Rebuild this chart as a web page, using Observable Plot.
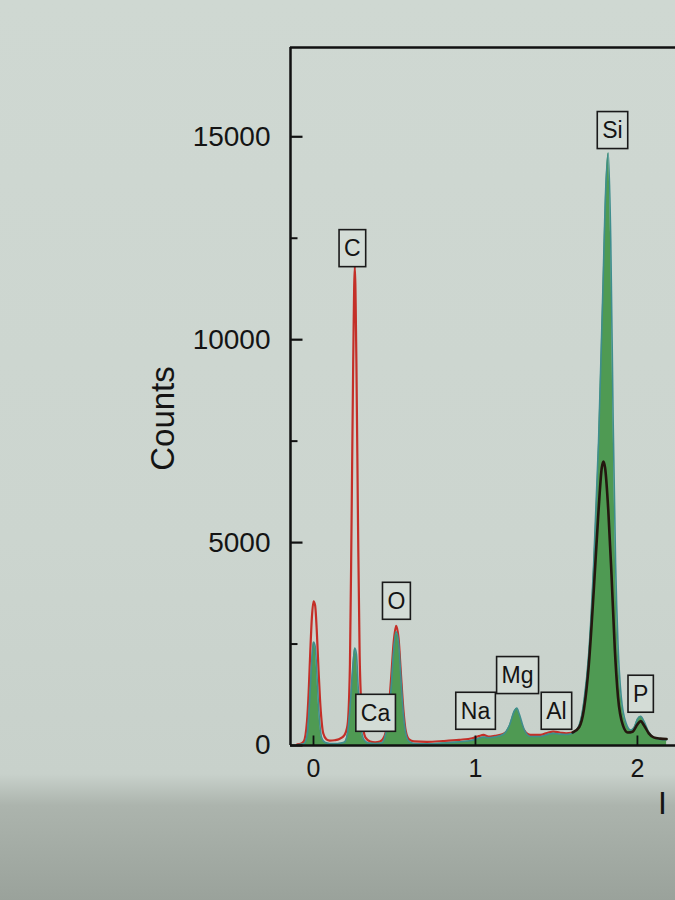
<!DOCTYPE html>
<html><head><meta charset="utf-8">
<script src="https://cdn.jsdelivr.net/npm/d3@7"></script>
<script src="https://cdn.jsdelivr.net/npm/@observablehq/plot@0.6"></script>
<style>
html,body{margin:0;padding:0;width:675px;height:900px;overflow:hidden;}
body{background:linear-gradient(to bottom,#cfd8d2 0%,#ccd5cf 60%,#c8d1cb 86%,#acb4ad 89.5%,#9aa29b 100%);font-family:"Liberation Sans",Arial,sans-serif;}
#chart svg{display:block;}
</style></head><body><div id="chart"></div>
<script>
// Spectrum A (green filled)
const energyA = [-0.10,-0.06,-0.04,-0.03,-0.02,-0.01,0.00,0.01,0.02,0.03,0.04,0.05,0.07,0.10,0.15,0.19,0.21,0.225,0.24,0.255,0.265,0.275,0.29,0.31,0.34,0.38,0.42,0.44,0.46,0.48,0.495,0.51,0.525,0.54,0.555,0.57,0.59,0.62,0.70,0.80,0.90,0.98,1.02,1.05,1.08,1.12,1.17,1.21,1.24,1.255,1.27,1.30,1.34,1.40,1.45,1.48,1.52,1.56,1.60,1.64,1.67,1.70,1.73,1.76,1.785,1.805,1.82,1.835,1.85,1.865,1.88,1.90,1.93,1.96,1.98,2.00,2.02,2.04,2.07,2.10,2.14,2.18];
const countsA = [20,40,250,700,1400,2150,2550,2450,1850,1050,480,200,80,50,50,80,300,900,1800,2400,2250,1500,600,150,60,50,60,200,600,1450,2350,2800,2550,1650,780,300,100,50,40,60,90,130,180,210,190,210,270,500,850,920,780,400,220,220,280,300,280,270,300,500,1100,2300,4500,7500,11000,13800,14600,12500,8000,4500,2500,1200,550,380,450,650,720,600,330,200,150,140];
// Spectrum B (red, then dark line)
const energyB = [-0.10,-0.08,-0.06,-0.04,-0.03,-0.02,-0.01,0.00,0.01,0.02,0.03,0.04,0.05,0.06,0.08,0.10,0.13,0.16,0.19,0.21,0.225,0.235,0.245,0.255,0.265,0.275,0.285,0.30,0.32,0.35,0.38,0.41,0.44,0.46,0.48,0.495,0.51,0.525,0.54,0.555,0.57,0.59,0.62,0.70,0.80,0.90,0.98,1.02,1.05,1.08,1.12,1.17,1.21,1.24,1.255,1.27,1.30,1.34,1.40,1.45,1.48,1.52,1.56,1.60,1.64,1.67,1.70,1.73,1.76,1.78,1.79,1.80,1.82,1.84,1.86,1.88,1.91,1.94,1.97,2.00,2.02,2.04,2.07,2.10,2.14,2.18];
const countsB = [30,40,100,600,1300,2300,3150,3550,3450,2850,1950,1150,600,300,150,120,130,160,250,500,2000,5500,9400,11800,9400,5400,2200,700,200,100,80,100,250,700,1700,2550,2950,2650,1750,880,350,150,100,90,110,140,180,230,260,220,240,280,420,700,780,650,380,260,260,320,340,320,300,320,450,900,2000,3800,5800,6850,7000,6850,5800,4200,2400,1200,500,320,340,520,600,500,300,200,170,160];
const switchEnergy = 1.60;
// Element labels
const labelNames = ["C","O","Ca","Na","Mg","Al","Si","P"];
const labelEnergy = [0.24,0.512,0.383,1.0,1.26,1.5,1.846,2.02];
const labelCounts = [12240,3550,790,840,1720,840,15150,1260];
// Axes
const xDomain = [-0.142, 2.235];
const yDomain = [0, 17200];
const xTicks = [0, 1, 2];
const yMajorTicks = [0, 5000, 10000, 15000];
const yMinorTicks = [2500, 7500, 12500];

const W = 675, H = 900, ML = 290, MR = 0, MT = 47, MB = 155;
const pxPerX = (W - ML - MR) / (xDomain[1] - xDomain[0]);
const pxPerY = (H - MT - MB) / (yDomain[1] - yDomain[0]);

const rowsA = energyA.map((e, i) => ({e, c: countsA[i]}));
const rowsRed = energyB.map((e, i) => ({e, c: countsB[i]})).filter(d => d.e <= switchEnergy);
const rowsDark = energyB.map((e, i) => ({e, c: countsB[i]})).filter(d => d.e >= switchEnergy);
const labels = labelNames.map((name, i) => ({name, e: labelEnergy[i], c: labelCounts[i]}));

const font = "'Liberation Sans', Arial, sans-serif";
const ink = "#141414";
const svg = Plot.plot({
  width: W, height: H,
  marginLeft: ML, marginRight: MR, marginTop: MT, marginBottom: MB,
  style: {background: "transparent", fontFamily: font, color: ink},
  x: {domain: xDomain, axis: null},
  y: {domain: yDomain, axis: null},
  marks: [
    Plot.line(rowsRed, {x: "e", y: "c", stroke: "#c42f28", strokeWidth: 2.2, curve: "monotone-x"}),
    Plot.areaY(rowsA, {x: "e", y: "c", fill: "#4f9a53", curve: "monotone-x"}),
    Plot.line(rowsA, {x: "e", y: "c", stroke: "#3f8e8e", strokeWidth: 1.6, curve: "monotone-x"}),
    Plot.line(rowsDark, {x: "e", y: "c", stroke: "#24170f", strokeWidth: 2.6, curve: "monotone-x"}),
    Plot.ruleX([xDomain[0]], {stroke: "#111", strokeWidth: 2.5}),
    Plot.ruleY([yDomain[1]], {stroke: "#111", strokeWidth: 2.5}),
    Plot.ruleY([0], {stroke: "#111", strokeWidth: 2.5}),
    // inward tick marks
    Plot.link(yMajorTicks, {x1: () => xDomain[0], x2: () => xDomain[0] + 12 / pxPerX, y1: d => d, y2: d => d, stroke: "#111", strokeWidth: 2.2}),
    Plot.link(yMinorTicks, {x1: () => xDomain[0], x2: () => xDomain[0] + 7 / pxPerX, y1: d => d, y2: d => d, stroke: "#111", strokeWidth: 2}),
    Plot.link(xTicks, {x1: d => d, x2: d => d, y1: () => 0, y2: () => 10 / pxPerY, stroke: "#111", strokeWidth: 1.8}),
    Plot.axisY(yMajorTicks, {tickSize: 0, tickPadding: 20, fontSize: 28, label: null, tickFormat: "d"}),
    Plot.axisX(xTicks, {tickSize: 0, tickPadding: 14, fontSize: 25, label: null, tickFormat: "d"}),
    Plot.text(["Counts"], {frameAnchor: "left", textAnchor: "middle", dx: -127, dy: 22, rotate: -90, fontSize: 33, fill: ink}),
    Plot.text(["I"], {frameAnchor: "bottom-right", textAnchor: "middle", dx: -13, dy: 68, fontSize: 32, fill: ink}),
    Plot.text(labels, {x: "e", y: "c", text: "name", fontSize: 23, fill: ink})
  ]
});
document.getElementById("chart").append(svg);
const names = new Set(labelNames);
d3.select(svg).selectAll("text").filter(function(){ return names.has(this.textContent) && this.closest("g[aria-label='text']"); })
  .each(function(){
    const b = this.getBBox();
    const padX = 5, padY = 6.5;
    d3.select(this.parentNode).insert("rect", () => this)
      .attr("x", b.x - padX).attr("y", b.y - padY + 1)
      .attr("width", b.width + 2 * padX).attr("height", b.height + 2 * padY - 2)
      .attr("transform", this.getAttribute("transform"))
      .attr("fill", "#d3dcd6").attr("stroke", "#1a1a1a").attr("stroke-width", 1.6);
  });
</script>
</body></html>
